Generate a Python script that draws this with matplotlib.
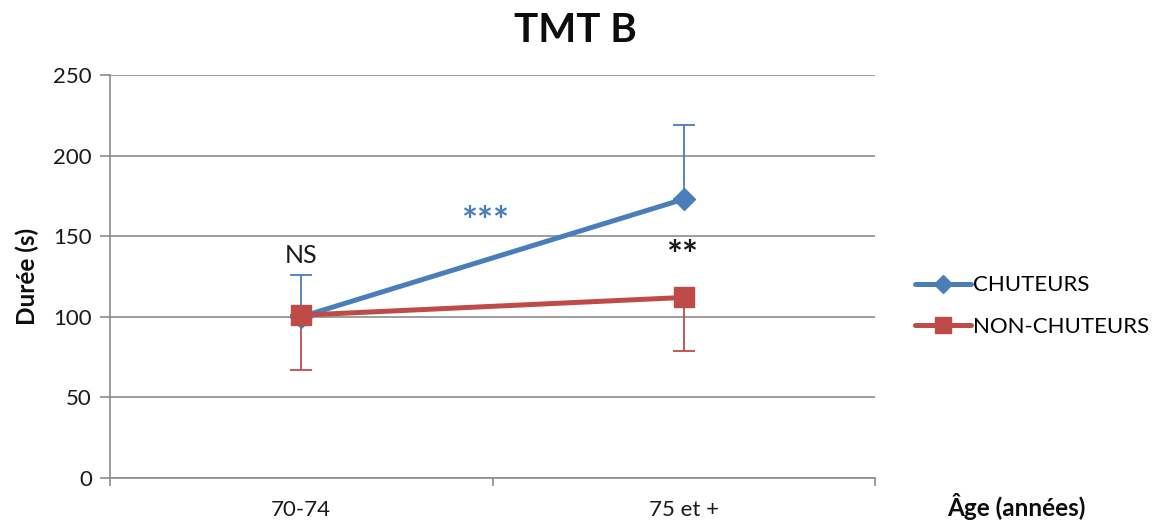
import matplotlib
matplotlib.use("Agg")
import matplotlib.pyplot as plt
import numpy as np

categories = ["70-74", "75 et +"]
chuteurs = [100, 173]
chuteurs_err_up = [26, 46]
non_chuteurs = [101, 112]
non_chuteurs_err_down = [34, 33]
series_names = ["CHUTEURS", "NON-CHUTEURS"]
yticks = [0, 50, 100, 150, 200, 250]

BLUE = "#4A7EBB"
RED = "#BE4B48"
GRID = "#8C8C8C"
TXT = "#1a1a1a"

plt.rcParams['font.family'] = ['Lato', 'DejaVu Sans']

fig = plt.figure(figsize=(11.61, 5.22), dpi=100)
ax = fig.add_axes([110/1161, 1-478/522, (875-110)/1161, (478-75)/522])

x = np.arange(len(categories))

# error bars (one-sided)
ax.errorbar(x, chuteurs, yerr=[np.zeros(len(x)), chuteurs_err_up], fmt='none',
            ecolor=BLUE, elinewidth=1.3, capsize=8, capthick=1.3, zorder=3)
ax.errorbar(x, non_chuteurs, yerr=[non_chuteurs_err_down, np.zeros(len(x))], fmt='none',
            ecolor=RED, elinewidth=1.3, capsize=8, capthick=1.3, zorder=3)

l1, = ax.plot(x, chuteurs, color=BLUE, lw=3.6, marker='D', markersize=11,
              markeredgecolor=BLUE, solid_capstyle='round', zorder=4, label=series_names[0])
l2, = ax.plot(x, non_chuteurs, color=RED, lw=3.6, marker='s', markersize=14,
              markeredgecolor=RED, solid_capstyle='round', zorder=5, label=series_names[1])

ax.set_xlim(-0.5, 1.5)
ax.set_ylim(0, 250)
ax.set_yticks(yticks)
ax.set_xticks(x)
ax.set_xticklabels(categories)
ax.set_xticks([-0.5, 0.5, 1.5], minor=True)
ax.tick_params(axis='x', which='major', length=0, labelsize=16, pad=16, colors=TXT)
ax.tick_params(axis='x', which='minor', length=6, color=GRID, width=1.2)
ax.tick_params(axis='y', length=7, color=GRID, width=1.2, labelsize=16, pad=6, labelcolor=TXT)

ax.grid(axis='y', color=GRID, lw=1.2)
ax.set_axisbelow(True)
for s in ['top', 'right']:
    ax.spines[s].set_visible(False)
for s in ['left', 'bottom']:
    ax.spines[s].set_color(GRID)
    ax.spines[s].set_linewidth(1.2)

ax.set_ylabel("Durée (s)", fontsize=17.5, fontweight='bold', labelpad=10, color='#0d0d0d')

# annotations
ax.text(0, 138, "NS", ha='center', va='center', fontsize=18, color=TXT)
ax.text(0.48, 158, "***", ha='center', va='center', fontsize=27, color=BLUE, fontweight='bold')
ax.text(0.995, 137, "**", ha='center', va='center', fontsize=27, color=TXT, fontweight='bold')

fig.text(575/1161, 1-30/522, "TMT B", ha='center', va='center', fontsize=29, fontweight='bold',
         color='#0d0d0d')
fig.text(1016/1161, 1-506/522, "Âge (années)", ha='center', va='center', fontsize=17.5,
         fontweight='bold', color='#0d0d0d')

fig.legend(handles=[l1, l2], loc='center left', bbox_to_anchor=(895/1161, 1-306/522),
           frameon=False, fontsize=16, handlelength=2.5, labelspacing=0.95, handletextpad=0.1,
           markerscale=0.85)

fig.savefig("out.png", dpi=100)
